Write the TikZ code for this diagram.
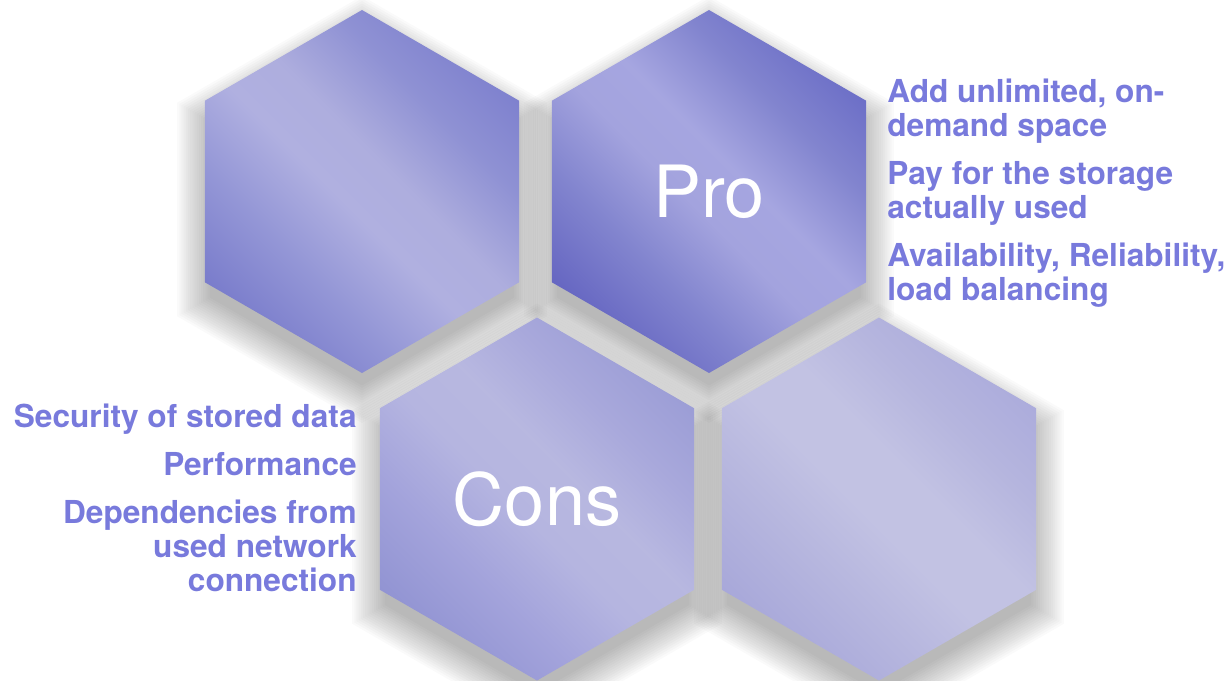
\documentclass[tikz,border=0pt]{standalone}
\usepackage{fontspec}
\setmainfont{TeX Gyre Heros}
\usetikzlibrary{positioning,shapes.geometric}
\definecolor{notecol}{RGB}{120,122,220}
% diagonal bands, dark corner - light middle - dark corner
\pgfdeclareverticalshading{hexTLband}{100bp}{rgb(0bp)=(.45,.46,.79); rgb(22bp)=(.46,.47,.79); rgb(36bp)=(.58,.59,.84);
  rgb(47bp)=(.69,.69,.88); rgb(55bp)=(.68,.68,.87); rgb(66bp)=(.56,.57,.83); rgb(80bp)=(.47,.48,.80); rgb(100bp)=(.46,.47,.80)}
\pgfdeclareverticalshading{proband}{100bp}{rgb(0bp)=(.37,.38,.75); rgb(22bp)=(.38,.38,.75); rgb(36bp)=(.51,.52,.81);
  rgb(47bp)=(.64,.64,.87); rgb(55bp)=(.65,.65,.88); rgb(66bp)=(.51,.52,.81); rgb(80bp)=(.39,.40,.77); rgb(100bp)=(.38,.39,.76)}
\pgfdeclareverticalshading{consband}{100bp}{rgb(0bp)=(.55,.56,.82); rgb(22bp)=(.56,.57,.82); rgb(36bp)=(.64,.64,.86);
  rgb(47bp)=(.71,.71,.88); rgb(56bp)=(.72,.72,.88); rgb(66bp)=(.66,.66,.86); rgb(80bp)=(.59,.60,.83); rgb(100bp)=(.58,.59,.83)}
\pgfdeclareverticalshading{hexBRband}{100bp}{rgb(0bp)=(.64,.64,.85); rgb(22bp)=(.65,.65,.85); rgb(36bp)=(.71,.71,.87);
  rgb(47bp)=(.76,.76,.89); rgb(56bp)=(.76,.76,.89); rgb(66bp)=(.71,.71,.87); rgb(80bp)=(.66,.66,.86); rgb(100bp)=(.65,.65,.85)}
\tikzset{hex node/.style={regular polygon,regular polygon sides=6,regular polygon rotate=30,
    minimum size=72.6mm,inner sep=0pt,outer sep=0pt,text=white,
    font=\fontsize{41}{41}\selectfont},
  note/.style={text=notecol,inner sep=0pt,font=\fontsize{18}{19.3}\bfseries\selectfont},
}

\begin{document}
\begin{tikzpicture}[x=0.2mm,y=-0.2mm]
	\useasboundingbox (0,0) rectangle (1231,680);
	% soft shadows under the hexagons
	\foreach \cx/\cy in {362/191.5,709/191.5,537/499,879/499}
	  \foreach \k in {0,...,15}{
	    \pgfmathsetmacro\r{176+2.5*\k}
	    \fill[black,opacity=.019] (\cx,\cy+18) +(30:\r) -- +(90:\r) -- +(150:\r)
	      -- +(210:\r) -- +(270:\r) -- +(330:\r) -- cycle;
	  }
	
	\node[hex node,shading=hexTLband,shading angle=-45] (hexTL) at (362,191.5) {};
	\node[hex node,shading=proband,shading angle=-45] (pro) at (709,191.5) {Pro};
	\node[hex node,shading=consband,shading angle=-45] (cons) at (537,499) {Cons};
	\node[hex node,shading=hexBRband,shading angle=-45] (hexBR) at (879,499) {};
	
	\node[note,align=left,anchor=north west] (proNotes) at (887,79)
	  {Add unlimited, on-\\demand space\\[8pt]Pay for the storage\\actually used\\[8pt]Availability, Reliability,\\load balancing};
	\node[note,align=right,anchor=north east] (consNotes) at (357,404)
	  {Security of stored data\\[8pt]Performance\\[8pt]Dependencies from\\used network\\connection};
\end{tikzpicture}
\end{document}
